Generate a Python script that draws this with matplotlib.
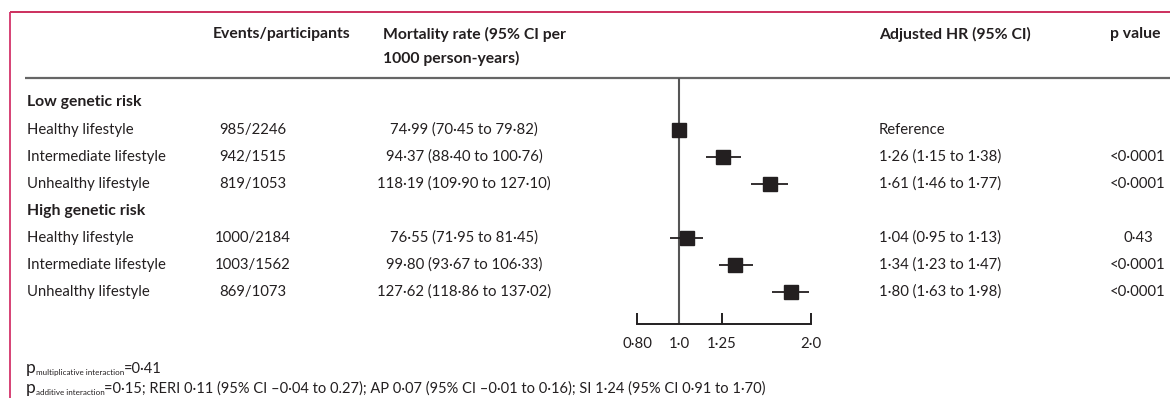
import matplotlib
matplotlib.use('Agg')
import matplotlib.pyplot as plt

plt.rcParams.update({'font.family': ['Lato', 'DejaVu Sans'], 'font.size': 10.7})

# table content
groups = ['Low genetic risk', 'High genetic risk']
lifestyles = ['Healthy lifestyle', 'Intermediate lifestyle', 'Unhealthy lifestyle']
events = [985, 942, 819, 1000, 1003, 869]
participants = [2246, 1515, 1053, 2184, 1562, 1073]
rate = [74.99, 94.37, 118.19, 76.55, 99.80, 127.62]
rate_lo = [70.45, 88.40, 109.90, 71.95, 93.67, 118.86]
rate_hi = [79.82, 100.76, 127.10, 81.45, 106.33, 137.02]
hr = [1.00, 1.26, 1.61, 1.04, 1.34, 1.80]
hr_lo = [1.00, 1.15, 1.46, 0.95, 1.23, 1.63]
hr_hi = [1.00, 1.38, 1.77, 1.13, 1.47, 1.98]
pvals = ['', '<0·0001', '<0·0001', '0·43', '<0·0001', '<0·0001']
xticks = [0.80, 1.0, 1.25, 2.0]
xticklabels = ['0·80', '1·0', '1·25', '2·0']

TXT = '#231f20'
W, H = 1170, 407


def dot(v, n=2):
    return f'{v:.{n}f}'.replace('.', '·')


fig = plt.figure(figsize=(W / 100, H / 100), dpi=100)
ax = fig.add_axes([0, 0, 1, 1])
ax.set_xlim(0, W)
ax.set_ylim(H, 0)
ax.axis('off')

# frame and header rule
ax.plot([10, W], [12, 12], color='#c81f50', lw=1.3, solid_capstyle='butt')
ax.plot([10, 10], [12, 398], color='#d3336a', lw=1.3, solid_capstyle='butt')
ax.plot([25, W], [78, 78], color='#666666', lw=1.6, solid_capstyle='butt')

hkw = dict(fontweight='bold', color=TXT, va='center', ha='left', fontsize=11.3)
ax.text(213, 34, 'Events/participants', **hkw)
ax.text(383, 34, 'Mortality rate (95% CI per', **hkw)
ax.text(383, 58, '1000 person-years)', **hkw)
ax.text(879, 34, 'Adjusted HR (95% CI)', **hkw)
ax.text(1110, 34, 'p value', **hkw)

group_y = [102, 211]
row_y = [130, 157, 184, 238, 265, 292]

for g, y in zip(groups, group_y):
    ax.text(27, y, g, **hkw)

for i, y in enumerate(row_y):
    ax.text(27, y, lifestyles[i % 3], color=TXT, va='center')
    ax.text(253, y, f'{events[i]}/{participants[i]}', color=TXT, va='center', ha='center')
    ax.text(464, y, f'{dot(rate[i])} ({dot(rate_lo[i])} to {dot(rate_hi[i])})',
            color=TXT, va='center', ha='center')
    if i == 0:
        hr_txt = 'Reference'
    else:
        hr_txt = f'{dot(hr[i])} ({dot(hr_lo[i])} to {dot(hr_hi[i])})'
    ax.text(879, y, hr_txt, color=TXT, va='center')
    ax.text(1138, y, pvals[i], color=TXT, va='center', ha='center')

# forest panel on a log axis, sharing the pixel rows
x0, x1 = 637, 811
fax = fig.add_axes([x0 / W, 0, (x1 - x0) / W, 1])
fax.set_xscale('log')
fax.set_xlim(0.80, 2.0)
fax.set_ylim(H, 0)
fax.patch.set_visible(False)
for s in ['top', 'left', 'right']:
    fax.spines[s].set_visible(False)
fax.spines['bottom'].set_position(('data', 324))
fax.spines['bottom'].set_linewidth(1.4)
fax.spines['bottom'].set_color(TXT)
fax.set_yticks([])
fax.set_xticks(xticks)
fax.set_xticklabels(xticklabels)
fax.xaxis.set_minor_locator(matplotlib.ticker.NullLocator())
fax.tick_params(axis='x', direction='in', length=8, width=1.4, color=TXT,
                labelcolor=TXT, pad=9, labelsize=10.7)

fax.vlines(1.0, 78, 324, color='#555555', lw=1.5)
xerr = [[h - l for h, l in zip(hr, hr_lo)], [u - h for h, u in zip(hr, hr_hi)]]
fax.errorbar(hr, row_y, xerr=xerr, fmt='s', color=TXT, ms=9.5, mec=TXT,
             elinewidth=1.3, capsize=0, clip_on=False)

# footnote with subscripted p
def p_line(y, sub, rest):
    t1 = ax.text(26, y, 'p', color=TXT, fontsize=12.5, va='baseline')
    t2 = ax.annotate(sub, xy=(1, y + 2), xycoords=(t1, 'data'), color=TXT,
                     fontsize=5.8, va='baseline')
    ax.annotate(rest, xy=(1, y), xycoords=(t2, 'data'), color=TXT,
                fontsize=10.5, va='baseline')


p_line(373, 'multiplicative interaction', '=0·41')
p_line(393, 'additive interaction',
       '=0·15; RERI 0·11 (95% CI –0·04 to 0.27); AP 0·07 (95% CI –0·01 to 0·16); '
       'SI 1·24 (95% CI 0·91 to 1·70)')

fig.savefig('out.png', dpi=100)
